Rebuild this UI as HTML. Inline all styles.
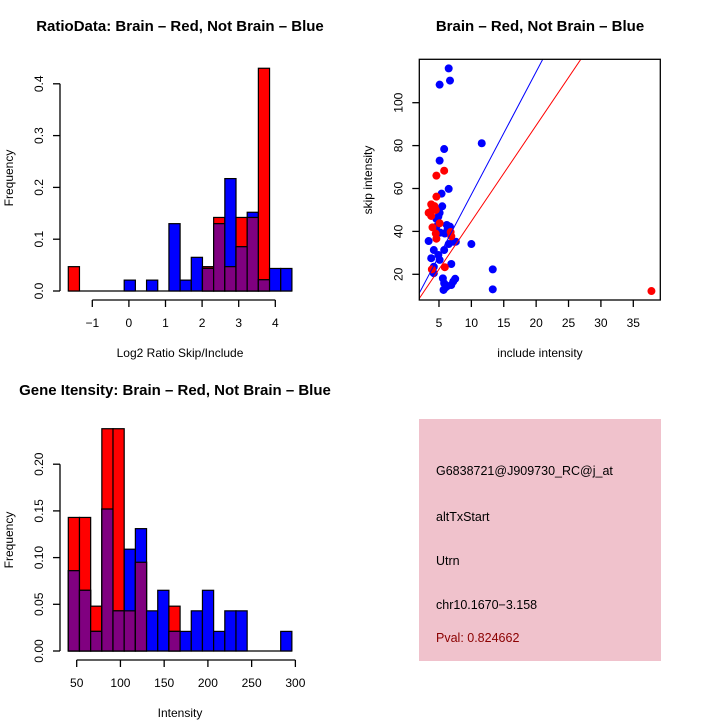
<!DOCTYPE html>
<html><head><meta charset="utf-8"><style>
html,body{margin:0;padding:0;background:#fff;}
svg{display:block;font-family:"Liberation Sans",Helvetica,sans-serif;}
</style></head><body>
<svg id="svg" width="720" height="720" viewBox="0 0 720 720">
<rect width="720" height="720" fill="#fff"/>
<g id="p1"></g>
<g id="p2"></g>
<g id="p3"></g>
<g id="p4">
<rect x="419" y="419" width="242" height="242" fill="#f0c2cc"/>
<text x="436" y="475" font-size="12.5">G6838721@J909730_RC@j_at</text>
<text x="436" y="521" font-size="12.5">altTxStart</text>
<text x="436" y="565" font-size="12.5">Utrn</text>
<text x="436" y="609" font-size="12.5">chr10.1670−3.158</text>
<text x="436" y="642" font-size="12.5" fill="#8b0000">Pval: 0.824662</text>
</g>
</svg>
<script>
// ---- Plot 1 data ----
const ratioBinStart = -1.656;
const ratioBinWidth = 0.3055;
const ratioRed = [0.047,0,0,0,0,0,0,0,0,0,0,0,0.047,0.142,0.047,0.142,0.142,0.43,0,0];
const ratioBlue = [0,0,0,0,0,0.021,0,0.021,0,0.13,0.021,0.065,0.0437,0.13,0.217,0.0855,0.152,0.0217,0.0435,0.0435];
const ratioXTicks = [-1,0,1,2,3,4];
const ratioYTicks = [0,0.1,0.2,0.3,0.4];
// ---- Plot 2 data ----
const blueX = [6.5,6.7,5.1,11.6,5.8,5.1,6.5,5.4,5.5,5.1,4.9,4.6,4.6,6.2,6.7,6.3,5.2,5.9,7.2,7.6,3.4,6.5,10.0,4.2,5.8,4.9,3.8,5.1,6.9,4.2,13.3,4.2,5.6,7.5,7.2,5.8,6.3,6.9,5.7,13.3,6.0];
const blueY = [116,110.3,108.4,81.1,78.4,73,59.8,57.6,51.7,48.7,46.9,45.8,42.2,43,42.2,40.6,39.4,39,35.2,35.2,35.5,34.1,34.1,31.3,31.3,29,27.5,26.7,24.8,23.5,22.3,20.5,18.1,17.9,16.6,15.8,14.5,15,12.7,13,13.8];
const redX = [4.6,5.8,4.6,3.8,3.4,4.0,4.3,4.5,3.8,5.1,4.0,4.5,4.6,6.8,6.9,5.9,3.9,37.8];
const redY = [66,68.3,56.2,52.6,48.7,50.4,51.8,50,47.2,43.8,41.9,39,36.6,39.7,37.7,23.3,22.3,12.2];
const slopes = [5.72,4.47];
const scatXTicks = [5,10,15,20,25,30,35];
const scatYTicks = [20,40,60,80,100];
// ---- Plot 3 data ----
const geneBinStart = 40.4;
const geneBinWidth = 12.78;
const geneRed = [0.143,0.143,0.048,0.238,0.238,0.043,0.095,0,0,0.048,0,0,0,0,0,0,0,0,0,0];
const geneBlue = [0.086,0.065,0.021,0.152,0.043,0.109,0.131,0.043,0.065,0.021,0.021,0.043,0.065,0.021,0.043,0.043,0,0,0,0.021];
const geneXTicks = [50,100,150,200,250,300];
const geneYTicks = ["0.00","0.05","0.10","0.15","0.20"];

const NS="http://www.w3.org/2000/svg";
function mk(parent,tag,attrs,name,text){
  const e=document.createElementNS(NS,tag);
  for(const k in attrs) e.setAttribute(k,attrs[k]);
  
  
  if(text!==undefined) e.textContent=text;
  parent.appendChild(e);return e;
}
function line(p,x1,y1,x2,y2,name,col,w){return mk(p,'line',{x1,y1,x2,y2,stroke:col||'#000','stroke-width':w||1.3},name);}
function hist(g,opt){
  const {start,width,red,blue,sx,sy}=opt;
  line(g,sx(start),sy(0),sx(start+width*red.length),sy(0),'x-baseline');
  for(let i=0;i<red.length;i++){
    const a=start+i*width,b=a+width;
    const vals=[[red[i],'#ff0000','bar-red'],[blue[i],'#0000ff','bar-blue'],[Math.min(red[i],blue[i]),'#800080','bar-overlap']];
    for(const [v,c,n] of vals){
      if(v<=0) continue;
      mk(g,'rect',{x:sx(a),y:sy(v),width:sx(b)-sx(a),height:sy(0)-sy(v),fill:c,stroke:'#000','stroke-width':1.2},n);
    }
  }
}
function yAxis(g,ticks,sy,x,fmt){
  const vs=ticks.map(Number);
  line(g,x,sy(vs[0]),x,sy(vs[vs.length-1]),'y-axis');
  ticks.forEach(t=>{
    const y=sy(Number(t));
    line(g,x-7,y,x,y,'y-tick');
    mk(g,'text',{x:x-17,y:y,'font-size':12,'text-anchor':'middle',transform:`rotate(-90 ${x-17} ${y})`},'y-tick-label',fmt?fmt(t):String(t));
  });
}
function xAxis(g,ticks,sx,y,fmt){
  line(g,sx(ticks[0]),y,sx(ticks[ticks.length-1]),y,'x-axis');
  ticks.forEach(t=>{
    const x=sx(t);
    line(g,x,y,x,y+7,'x-tick');
    mk(g,'text',{x:x,y:y+27,'font-size':12,'text-anchor':'middle'},'x-tick-label',fmt?fmt(t):String(t));
  });
}
// Plot 1
{
 const g=document.getElementById('p1');
 const sx=v=>92.3+(v+1)*36.6, sy=v=>291-v*518;
 hist(g,{start:ratioBinStart,width:ratioBinWidth,red:ratioRed,blue:ratioBlue,sx,sy});
 yAxis(g,ratioYTicks,sy,60,t=>t.toFixed(1));
 xAxis(g,ratioXTicks,sx,300,t=>t<0?'−'+(-t):String(t));
 mk(g,'text',{x:180,y:31,'font-size':15,'font-weight':'bold','text-anchor':'middle'},'chart-title','RatioData: Brain – Red, Not Brain – Blue');
 mk(g,'text',{x:180,y:357,'font-size':12,'text-anchor':'middle'},'x-axis-title','Log2 Ratio Skip/Include');
 mk(g,'text',{x:13,y:178,'font-size':12,'text-anchor':'middle',transform:'rotate(-90 13 178)'},'y-axis-title','Frequency');
}
// Plot 2
{
 const g=document.getElementById('p2');
 const L=419.3,R=660.3,T=59.3,B=300;
 const sx=v=>406.6+v*6.477, sy=v=>274.3-(v-20)*2.145;
 const cp=mk(g,'clipPath',{id:'clip2'},'clip');
 mk(cp,'rect',{x:L,y:T,width:R-L,height:B-T},'clip-rect');
 const inner=mk(g,'g',{'clip-path':'url(#clip2)'},'plot-area');
 blueX.forEach((x,i)=>mk(inner,'circle',{cx:sx(x),cy:sy(blueY[i]),r:4,fill:'#0000ff'},'point-not-brain'));
 redX.forEach((x,i)=>mk(inner,'circle',{cx:sx(x),cy:sy(redY[i]),r:4,fill:'#ff0000'},'point-brain'));
 const cols=['#0000ff','#ff0000'];
 slopes.forEach((s,i)=>{
   mk(inner,'line',{x1:sx(0),y1:sy(0),x2:sx(40),y2:sy(40*s),stroke:cols[i],'stroke-width':1},i?'fit-line-brain':'fit-line-not-brain');
 });
 mk(g,'rect',{x:L,y:T,width:R-L,height:B-T,fill:'none',stroke:'#000','stroke-width':1.3},'plot-box');
 scatYTicks.forEach(t=>{const y=sy(t);line(g,L-7,y,L,y,'y-tick');
   mk(g,'text',{x:L-17,y:y,'font-size':12,'text-anchor':'middle',transform:`rotate(-90 ${L-17} ${y})`},'y-tick-label',String(t));});
 scatXTicks.forEach(t=>{const x=sx(t);line(g,x,B,x,B+7,'x-tick');
   mk(g,'text',{x:x,y:B+27,'font-size':12,'text-anchor':'middle'},'x-tick-label',String(t));});
 mk(g,'text',{x:540,y:31,'font-size':15,'font-weight':'bold','text-anchor':'middle'},'chart-title','Brain – Red, Not Brain – Blue');
 mk(g,'text',{x:540,y:357,'font-size':12,'text-anchor':'middle'},'x-axis-title','include intensity');
 mk(g,'text',{x:372,y:180,'font-size':12,'text-anchor':'middle',transform:'rotate(-90 372 180)'},'y-axis-title','skip intensity');
}
// Plot 3
{
 const g=document.getElementById('p3');
 const sx=v=>76.7+(v-50)*0.8747, sy=v=>651-v*934;
 hist(g,{start:geneBinStart,width:geneBinWidth,red:geneRed,blue:geneBlue,sx,sy});
 yAxis(g,geneYTicks,sy,60);
 xAxis(g,geneXTicks,sx,660);
 mk(g,'text',{x:175,y:395,'font-size':15,'font-weight':'bold','text-anchor':'middle'},'chart-title','Gene Itensity: Brain – Red, Not Brain – Blue');
 mk(g,'text',{x:180,y:717,'font-size':12,'text-anchor':'middle'},'x-axis-title','Intensity');
 mk(g,'text',{x:13,y:540,'font-size':12,'text-anchor':'middle',transform:'rotate(-90 13 540)'},'y-axis-title','Frequency');
}
</script>
</body></html>
